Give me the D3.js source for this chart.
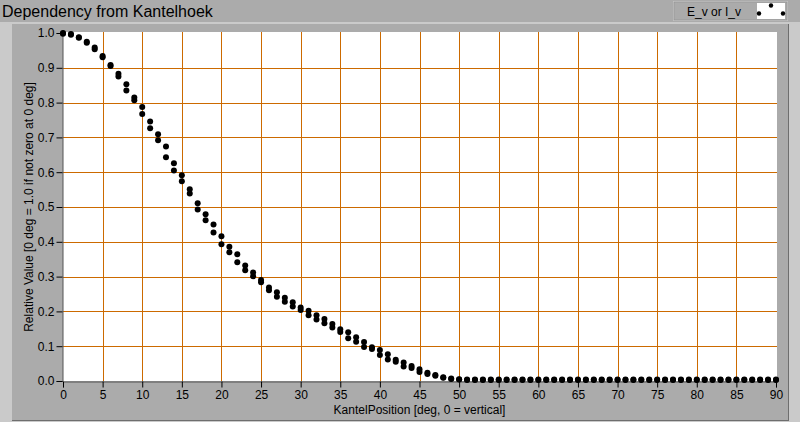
<!DOCTYPE html>
<html lang="en">
<head>
<meta charset="UTF-8">
<title>Dependency from Kantelhoek</title>
<style>
  body { margin: 0; background: #ababab; }
  svg { display: block; }
  text { font-family: "Liberation Sans", Arial, sans-serif; fill: #000; }
</style>
</head>
<body>
<svg id="chart" width="800" height="422"></svg>
<script src="https://d3js.org/d3.v7.min.js"></script>
<script>

  // kantel positions (deg) measured
  var degrees = [0, 1, 2, 3, 4, 5, 6, 7, 8, 9, 10, 11, 12, 13, 14, 15, 16, 17, 18, 19,
                 20, 21, 22, 23, 24, 25, 26, 27, 28, 29, 30, 31, 32, 33, 34, 35, 36, 37, 38, 39,
                 40, 41, 42, 43, 44, 45, 46, 47, 48, 49, 50, 51, 52, 53, 54, 55, 56, 57, 58, 59,
                 60, 61, 62, 63, 64, 65, 66, 67, 68, 69, 70, 71, 72, 73, 74, 75, 76, 77, 78, 79,
                 80, 81, 82, 83, 84, 85, 86, 87, 88, 89, 90];

  // two readings per position (E_v or I_v, relative)
  var readingA = [1.000, 0.997, 0.988, 0.975, 0.958, 0.934, 0.908, 0.883, 0.853, 0.815,
                  0.787, 0.746, 0.709, 0.674, 0.626, 0.591, 0.551, 0.511, 0.479, 0.450,
                  0.416, 0.386, 0.364, 0.332, 0.312, 0.290, 0.269, 0.255, 0.239, 0.226,
                  0.211, 0.202, 0.189, 0.178, 0.164, 0.149, 0.140, 0.126, 0.112, 0.097,
                  0.089, 0.077, 0.061, 0.053, 0.043, 0.034, 0.024, 0.017, 0.011, 0.007,
                  0.005, 0.004, 0.004, 0.004, 0.004, 0.004, 0.004, 0.004, 0.004, 0.004,
                  0.004, 0.004, 0.004, 0.004, 0.004, 0.004, 0.004, 0.004, 0.004, 0.004,
                  0.004, 0.004, 0.004, 0.004, 0.004, 0.004, 0.004, 0.004, 0.004, 0.004,
                  0.004, 0.004, 0.004, 0.004, 0.004, 0.004, 0.004, 0.004, 0.004, 0.004, 0.004];

  var readingB = [0.998, 0.995, 0.986, 0.972, 0.953, 0.930, 0.905, 0.875, 0.835, 0.807,
                  0.767, 0.726, 0.692, 0.643, 0.605, 0.574, 0.539, 0.493, 0.462, 0.427,
                  0.393, 0.370, 0.341, 0.318, 0.301, 0.284, 0.261, 0.242, 0.228, 0.214,
                  0.204, 0.189, 0.177, 0.166, 0.154, 0.141, 0.123, 0.113, 0.098, 0.092,
                  0.075, 0.062, 0.055, 0.042, 0.037, 0.026, 0.020, 0.015, 0.009, 0.006,
                  0.004, 0.003, 0.003, 0.003, 0.003, 0.003, 0.003, 0.003, 0.003, 0.003,
                  0.003, 0.003, 0.003, 0.003, 0.003, 0.003, 0.003, 0.003, 0.003, 0.003,
                  0.003, 0.003, 0.003, 0.003, 0.003, 0.003, 0.003, 0.003, 0.003, 0.003,
                  0.003, 0.003, 0.003, 0.003, 0.003, 0.003, 0.003, 0.003, 0.003, 0.003, 0.003];

  var xTicks = [0, 5, 10, 15, 20, 25, 30, 35, 40, 45, 50, 55, 60, 65, 70, 75, 80, 85, 90];
  var yTicks = [0.0, 0.1, 0.2, 0.3, 0.4, 0.5, 0.6, 0.7, 0.8, 0.9, 1.0];

  var svg = d3.select("#chart"),
      pLeft = 63, pRight = 776, pTop = 33, pBottom = 381,
      gridColor = "#cc6a00";

  var x = d3.scaleLinear().domain([0, 90]).range([pLeft, pRight]);
  var y = d3.scaleLinear().domain([0, 1]).range([pBottom, pTop]);

  // panel frame (LabVIEW style bevel)
  svg.append("rect").attr("x", 0).attr("y", 22).attr("width", 800).attr("height", 400).attr("fill", "#cacaca");
  svg.append("rect").attr("x", 12).attr("y", 24).attr("width", 776).attr("height", 396).attr("fill", "#ababab");
  svg.append("line").attr("x1", 12).attr("x2", 788).attr("y1", 420.5).attr("y2", 420.5).attr("stroke", "#6e6e6e");
  svg.append("line").attr("x1", 788.5).attr("x2", 788.5).attr("y1", 24).attr("y2", 421).attr("stroke", "#6e6e6e");

  // title
  svg.append("text").attr("x", 2).attr("y", 17).style("font-size", "16px").text("Dependency from Kantelhoek");

  // legend
  var lg = svg.append("g");
  lg.append("rect").attr("x", 673).attr("y", 1).attr("width", 115).attr("height", 20).attr("fill", "#c4c4c4");
  lg.append("rect").attr("x", 674).attr("y", 2).attr("width", 113).attr("height", 18).attr("fill", "#ababab")
    .attr("stroke", "#8a8a8a").attr("stroke-width", 0.5);
  lg.append("text").attr("x", 687).attr("y", 15.5).style("font-size", "12px").text("E_v or I_v");
  lg.append("rect").attr("x", 757).attr("y", 3).attr("width", 28).attr("height", 16).attr("fill", "#fff");
  lg.selectAll("circle.leg")
    .data([[771, 5.5], [759, 13.5], [783, 13.5]])
    .enter().append("circle")
    .attr("cx", function (d) { return d[0]; })
    .attr("cy", function (d) { return d[1]; })
    .attr("r", 2.2).attr("fill", "#000");

  // plot area
  svg.append("rect").attr("x", pLeft).attr("y", pTop - 1).attr("width", pRight - pLeft + 1).attr("height", pBottom - pTop + 1)
    .attr("fill", "#fff");

  // grid
  svg.append("g").selectAll("line")
    .data(xTicks.filter(function (t) { return t > 0 && t < 90; }))
    .enter().append("line")
    .attr("x1", function (d) { return Math.round(x(d)) + 0.5; })
    .attr("x2", function (d) { return Math.round(x(d)) + 0.5; })
    .attr("y1", pTop - 1).attr("y2", pBottom)
    .attr("stroke", gridColor);

  svg.append("g").selectAll("line")
    .data(yTicks.filter(function (t) { return t > 0 && t < 1; }))
    .enter().append("line")
    .attr("y1", function (d) { return Math.round(y(d)) + 0.5; })
    .attr("y2", function (d) { return Math.round(y(d)) + 0.5; })
    .attr("x1", pLeft).attr("x2", pRight + 1)
    .attr("stroke", gridColor);

  // axes
  var xAxis = d3.axisBottom(x).tickValues(xTicks).tickSize(6).tickPadding(3).tickFormat(d3.format("d"));
  var yAxis = d3.axisLeft(y).tickValues(yTicks).tickSize(6).tickPadding(2).tickFormat(d3.format(".1f"));

  var gx = svg.append("g").attr("transform", "translate(0," + (pBottom + 0.5) + ")").call(xAxis);
  var gy = svg.append("g").attr("transform", "translate(" + (pLeft - 0.5) + ",0)").call(yAxis);
  [gx, gy].forEach(function (g) {
    g.select(".domain").attr("stroke", "#555");
    g.selectAll(".tick line").attr("stroke", "#000");
    g.selectAll(".tick text").style("font-size", "12px").style("font-family", "'Liberation Sans', Arial, sans-serif")
      .attr("fill", "#000");
  });

  // axis titles
  svg.append("text").attr("x", (pLeft + pRight) / 2).attr("y", 414).attr("text-anchor", "middle")
    .style("font-size", "12px").text("KantelPosition [deg, 0 = vertical]");
  svg.append("text").attr("transform", "translate(33," + ((pTop + pBottom) / 2) + ") rotate(-90)")
    .attr("text-anchor", "middle").style("font-size", "12px")
    .text("Relative Value [0 deg = 1.0 if not zero at 0 deg]");

  // points
  var pts = [];
  degrees.forEach(function (d, i) {
    pts.push({ deg: d, v: readingA[i] });
    pts.push({ deg: d, v: readingB[i] });
  });

  svg.append("g").selectAll("circle")
    .data(pts)
    .enter().append("circle")
    .attr("cx", function (d) { return x(d.deg); })
    .attr("cy", function (d) { return y(d.v); })
    .attr("r", 3)
    .attr("fill", "#000");

</script>
</body>
</html>
